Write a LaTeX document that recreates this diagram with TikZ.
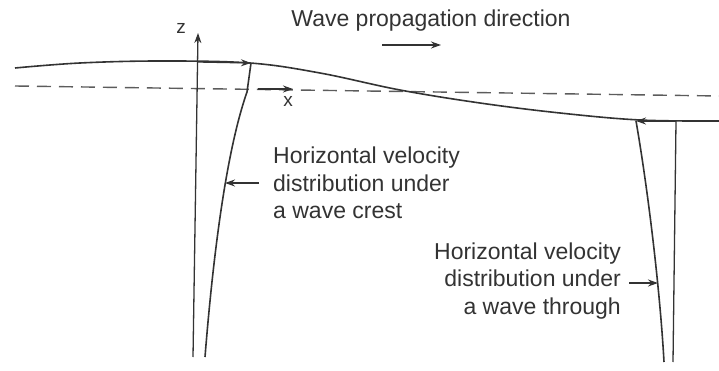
\documentclass[tikz,border=0pt]{standalone}
\usepackage{fontspec}
\setmainfont{Liberation Sans}
\usetikzlibrary{positioning,arrows.meta}
\definecolor{ink}{HTML}{333333}

\begin{document}
\begin{tikzpicture}[
  x=1pt, y=-1pt,
  lbl/.style={font=\fontsize{23}{27.5}\selectfont, text=ink, inner sep=0pt},
  axislbl/.style={font=\fontsize{19}{22}\selectfont, text=ink, inner sep=0pt},
  profile/.style={draw=ink, line width=1.6pt},
  arr/.style={-{Stealth[length=10pt,width=7pt]}, draw=ink, line width=1.3pt},
  swl/.style={draw=ink!80, line width=1.4pt, dash pattern=on 14pt off 8pt}
]
  \useasboundingbox (0,0) rectangle (719,371);

  % Still water level and free surface
  \draw[swl] (15,86) -- (719,96);
  \draw[profile] plot[smooth, tension=0.6] coordinates
    {(15,68) (80,63) (160,61) (250,63) (320,73) (400,90) (480,103) (560,113) (640,120) (719,121)};

  % Axes
  \coordinate (zbot) at (193,357);
  \coordinate (ztop) at (198,33);
  \coordinate (xfrom) at (258,89);
  \coordinate (xto) at (293,89);
  \draw[arr] (zbot) -- (ztop);
  \draw[arr] (xfrom) -- (xto);
  \node[axislbl] (zlbl) at (181,28) {z};
  \node[axislbl] (xlbl) at (288,101) {x};

  % Propagation direction
  \node[lbl] (wave) at (431,21) {Wave propagation direction};
  \coordinate (wfrom) at (382,45);
  \coordinate (wto) at (441,45);
  \draw[arr] (wfrom) -- (wto);

  % Velocity under the crest
  \coordinate (crestref) at (198,62);
  \coordinate (crestsurf) at (251,63);
  \coordinate (crestknee) at (247,92);
  \coordinate (crestbot) at (205,357);
  \draw[arr] (crestref) -- (crestsurf);
  \draw[profile] (crestsurf) -- (crestknee)
    .. controls (226,152) and (213,257) .. (crestbot);

  % Velocity under the trough
  \coordinate (troughtop) at (676,121);
  \coordinate (troughref) at (673,362);
  \coordinate (troughsurf) at (636,121);
  \coordinate (troughbot) at (664,362);
  \draw[profile, line width=1.3pt] (troughtop) -- (troughref);
  \draw[arr] (troughtop) -- (troughsurf);
  \draw[profile] (troughsurf) .. controls (648,190) and (660,290) .. (troughbot);

  % Labels
  \node[lbl, align=left, anchor=west] (crestlbl) at (273,183)
    {Horizontal velocity\\distribution under\\a wave crest};
  \node[lbl, align=right, anchor=east] (troughlbl) at (621,281)
    {Horizontal velocity\\distribution under\\a wave through};

  \coordinate (crestpt) at (225,183);
  \coordinate (troughpt) at (658,283);
  \draw[arr] (crestlbl.west |- crestpt) ++(-14,0) -- (crestpt);
  \draw[arr] (troughlbl.east |- troughpt) ++(8,0) -- (troughpt);
\end{tikzpicture}
\end{document}
